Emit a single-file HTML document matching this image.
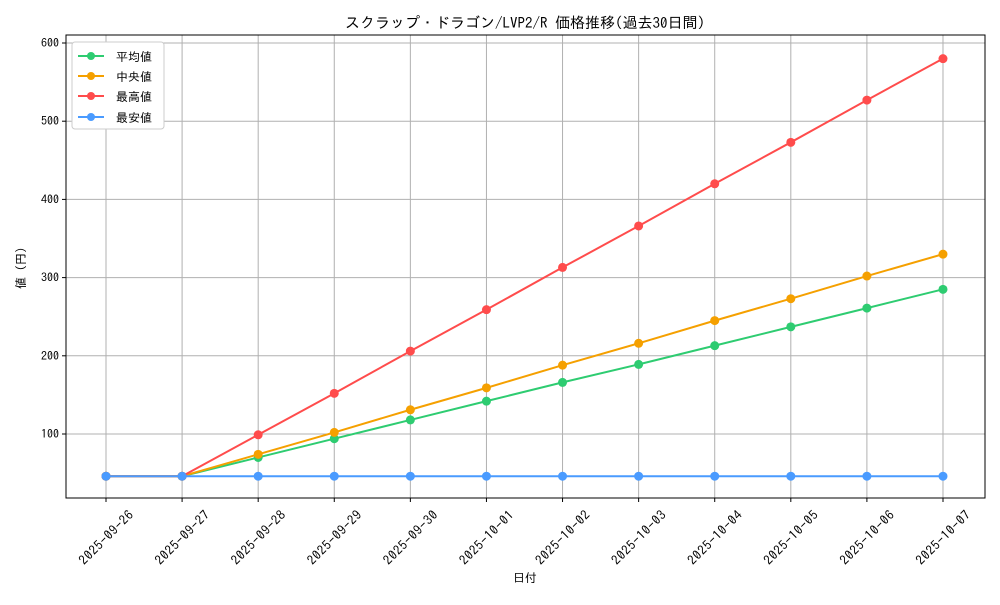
<!DOCTYPE html>
<html><head><meta charset="utf-8"><style>
body{margin:0;background:#fff;}
text{font-family:"IPAGothic","Noto Sans CJK JP",sans-serif;fill:#000;}
</style></head><body>
<svg width="1000" height="600" xmlns="http://www.w3.org/2000/svg">
<rect width="1000" height="600" fill="#fff"/>
<g id="grid" stroke="#b0b0b0" stroke-width="1"></g>
<rect x="66" y="35" width="919" height="463" fill="none" stroke="#000" stroke-width="1"/>
<g id="ticks"></g>
<g id="series"></g>
<text x="525" y="28" font-size="15" text-anchor="middle">スクラップ・ドラゴン/LVP2/R 価格推移(過去30日間)</text>
<text x="525" y="582" font-size="12" text-anchor="middle">日付</text>
<text x="25" y="268" font-size="12" text-anchor="middle" transform="rotate(-90 25 268)">値 (円)</text>
<g>
<rect x="72" y="42" width="92" height="87" fill="#fff" stroke="#ccc" rx="3"/>
<line x1="78" y1="56" x2="104" y2="56" stroke="#2ecc71" stroke-width="2"/><circle cx="91" cy="56" r="4" fill="#2ecc71"/>
<text x="116" y="61" font-size="12">平均値</text>
<line x1="78" y1="76" x2="104" y2="76" stroke="#f5a000" stroke-width="2"/><circle cx="91" cy="76" r="4" fill="#f5a000"/>
<text x="116" y="81" font-size="12">中央値</text>
<line x1="78" y1="96" x2="104" y2="96" stroke="#ff4c4c" stroke-width="2"/><circle cx="91" cy="96" r="4" fill="#ff4c4c"/>
<text x="116" y="101" font-size="12">最高値</text>
<line x1="78" y1="117" x2="104" y2="117" stroke="#4a9bff" stroke-width="2"/><circle cx="91" cy="117" r="4" fill="#4a9bff"/>
<text x="116" y="122" font-size="12">最安値</text>
</g>
</svg>
<script>
const ns="http://www.w3.org/2000/svg";
const X=i=>106+i*76.09, Y=v=>434-(v-100)*0.782;
const g=document.getElementById('grid'),t=document.getElementById('ticks'),s=document.getElementById('series');
function el(p,n,a,txt){const e=document.createElementNS(ns,n);for(const k in a)e.setAttribute(k,a[k]);if(txt)e.textContent=txt;p.appendChild(e);return e;}
const dates=["2025-09-26","2025-09-27","2025-09-28","2025-09-29","2025-09-30","2025-10-01","2025-10-02","2025-10-03","2025-10-04","2025-10-05","2025-10-06","2025-10-07"];
dates.forEach((d,i)=>{const x=X(i);el(g,'line',{x1:x,x2:x,y1:35,y2:498});el(t,'line',{x1:x,x2:x,y1:498,y2:502,stroke:'#000'});
el(t,'text',{x:x,y:542,'font-size':13,'letter-spacing':0.6,'text-anchor':'middle',transform:`rotate(-45 ${x} 537)`},d);});
[100,200,300,400,500,600].forEach(v=>{const y=Y(v);el(g,'line',{x1:66,x2:985,y1:y,y2:y});el(t,'line',{x1:62,x2:66,y1:y,y2:y,stroke:'#000'});
el(t,'text',{x:59,y:y+4,'font-size':12,'text-anchor':'end'},String(v));});
const data=[
["#2ecc71",[46,46,70,94,118,142,166,189,213,237,261,285]],
["#f5a000",[46,46,74,102,131,159,188,216,245,273,302,330]],
["#ff4c4c",[46,46,99,152,206,259,313,366,420,473,527,580]],
["#4a9bff",[46,46,46,46,46,46,46,46,46,46,46,46]]];
data.forEach(([c,v])=>{el(s,'polyline',{points:v.map((y,i)=>X(i)+','+Y(y)).join(' '),fill:'none',stroke:c,'stroke-width':2});
v.forEach((y,i)=>el(s,'circle',{cx:X(i),cy:Y(y),r:4.5,fill:c}));});
</script>
</body></html>
